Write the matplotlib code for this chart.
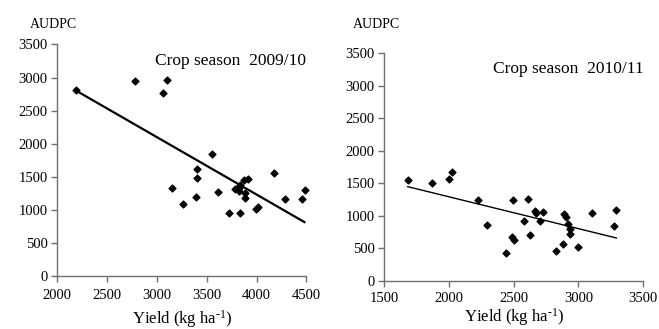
import matplotlib
matplotlib.use("Agg")
import matplotlib.pyplot as plt

plt.rcParams['font.family'] = 'Liberation Serif'
plt.rcParams['mathtext.fontset'] = 'custom'
plt.rcParams['mathtext.rm'] = 'Liberation Serif'
plt.rcParams['mathtext.it'] = 'Liberation Serif:italic'

# season 2009/10
yield_0910 = [2184, 2782, 3103, 3060, 3554, 3403, 3403, 3153, 3393, 3263, 3611, 3721, 3835,
              3788, 3822, 3835, 3869, 3915, 3828, 3885, 3885, 3989, 4012, 4172, 4286, 4453, 4490]
audpc_0910 = [2810, 2941, 2961, 2760, 1843, 1621, 1485, 1334, 1198, 1083, 1264, 947, 947,
              1314, 1334, 1370, 1450, 1470, 1289, 1249, 1183, 1012, 1047, 1556, 1168, 1168, 1304]
trend_x_0910 = [2190, 4480]
trend_y_0910 = [2800, 815]

# season 2010/11
yield_1011 = [1681, 1871, 2000, 2026, 2225, 2295, 2497, 2487, 2505, 2443, 2613, 2577, 2623,
              2665, 2672, 2723, 2700, 2826, 2877, 2885, 2903, 2921, 2931, 2938, 2998, 3103,
              3275, 3293]
audpc_1011 = [1553, 1502, 1568, 1671, 1245, 865, 1245, 672, 630, 435, 1260, 918, 712,
              1076, 1041, 1056, 922, 457, 573, 1025, 988, 872, 795, 718, 523, 1041,
              850, 1091]
trend_x_1011 = [1681, 3293]
trend_y_1011 = [1450, 661]

fig = plt.figure(figsize=(6.59, 3.29), dpi=100)

panels = [
    ([0.087, 0.161, 0.378, 0.704], yield_0910, audpc_0910, trend_x_0910, trend_y_0910,
     (2000, 4500), [2000, 2500, 3000, 3500, 4000, 4500], "Crop season  2009/10", 1.6, 30, 5, 5),
    ([0.583, 0.146, 0.393, 0.692], yield_1011, audpc_1011, trend_x_1011, trend_y_1011,
     (1500, 3500), [1500, 2000, 2500, 3000, 3500], "Crop season  2010/11", 1.0, 353, 4, 1),
]

for rect, xs, ys, tx, ty, xlim, xt, title, lw, audpc_x, xpad, lpad in panels:
    ax = fig.add_axes(rect)
    ax.scatter(xs, ys, marker='D', s=12, color='black', zorder=3, clip_on=False)
    ax.plot(tx, ty, color='black', lw=lw, zorder=2)
    ax.set_xlim(*xlim)
    ax.set_ylim(0, 3500)
    ax.set_xticks(xt)
    ax.set_yticks(range(0, 3501, 500))
    for s in ['top', 'right']:
        ax.spines[s].set_visible(False)
    for s in ['left', 'bottom']:
        ax.spines[s].set_color('#707070')
        ax.spines[s].set_linewidth(1.0)
    ax.tick_params(direction='out', length=4, width=1, color='#707070',
                   labelsize=10.5, pad=3)
    ax.tick_params(axis='x', pad=xpad)
    ax.text(1.0, 0.93, title, transform=ax.transAxes, ha='right', va='center',
            fontsize=12.5)
    fig.text(audpc_x / 659, 1 - 25 / 329, "AUDPC", ha='left', va='center',
             fontsize=10)
    ax.set_xlabel('Yield (kg ha$^{\\text{-}1}$)', fontsize=12, labelpad=lpad)

fig.savefig("out.png", dpi=100)
